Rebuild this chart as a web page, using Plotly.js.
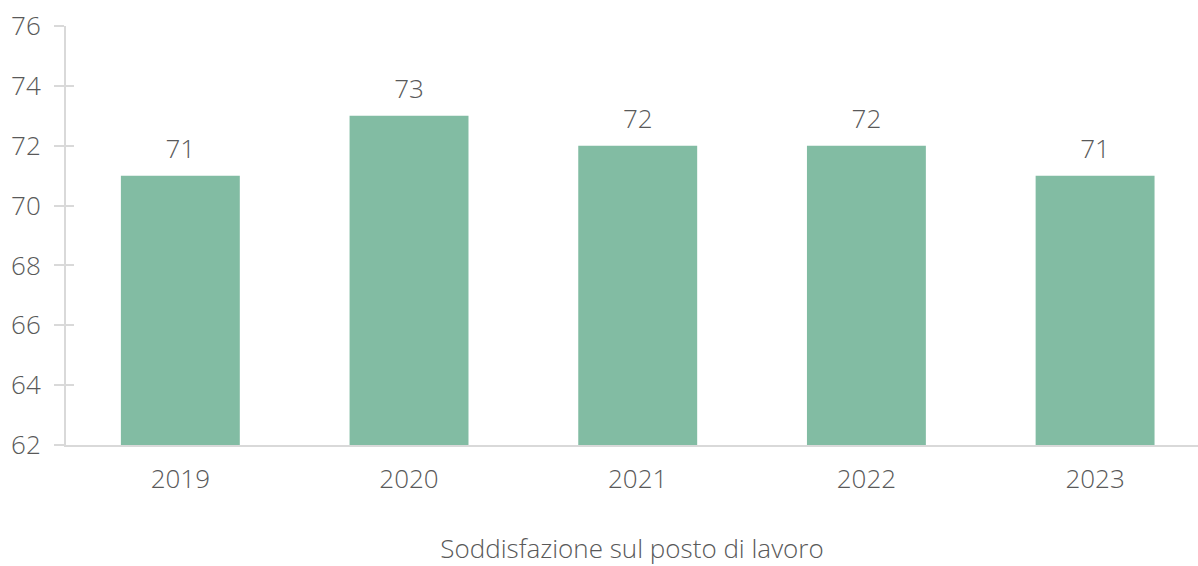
<!DOCTYPE html>
<html><head><meta charset="utf-8">
<script src="https://cdn.plot.ly/plotly-3.0.1.min.js"></script>
<style>html,body{margin:0;padding:0;background:#fff}#chart{width:1198px;height:566px}</style>
</head><body><div id="chart"></div>
<script>
const years = ['2019','2020','2021','2022','2023'];
const values = [71, 73, 72, 72, 71];
const yTicks = [62,64,66,68,70,72,74,76];
const xTitle = 'Soddisfazione sul posto di lavoro';

const font = "'Open Sans', 'Noto Sans', sans-serif";
const fs = 26;
const tf = {family: font, size: fs, color: '#595959', weight: 300};
const bars = {
  type: 'bar', x: years, y: values, width: 0.52,
  marker: {color: '#82BCA3'},
  hoverinfo: 'none'
};
const labels = {
  type: 'scatter', mode: 'markers+text', x: years, y: values,
  marker: {size: 16, opacity: 0},
  text: values.map(String), textposition: 'top center',
  textfont: tf, cliponaxis: false, hoverinfo: 'none'
};
const dummy = {type: 'scatter', x: [years[0]], y: [62], yaxis: 'y2', mode: 'markers', marker: {opacity: 0}, hoverinfo: 'none'};
const layout = {
  width: 1198, height: 566,
  margin: {l: 66, r: 0, t: 26, b: 121},
  paper_bgcolor: '#fff', plot_bgcolor: '#fff',
  showlegend: false,
  font: tf,
  xaxis: {
    type: 'category', range: [-0.5, 4.45], showgrid: false, zeroline: false,
    showline: true, linecolor: '#d9d9d9', linewidth: 2,
    ticks: '', tickfont: tf, ticklabelstandoff: 10,
    title: {text: xTitle, font: tf, standoff: 46}
  },
  yaxis: {
    range: [62, 76], tickvals: yTicks, showgrid: false, zeroline: false,
    showline: true, linecolor: '#d9d9d9', linewidth: 2,
    ticks: 'outside', ticklen: 10, tickcolor: '#d9d9d9', tickwidth: 2,
    tickfont: tf, ticklabelstandoff: 8
  },
  yaxis2: {
    overlaying: 'y', matches: 'y', range: [62, 76], tickvals: yTicks,
    showgrid: false, zeroline: false, showline: false, showticklabels: false,
    ticks: 'inside', ticklen: 8, tickcolor: '#d9d9d9', tickwidth: 2
  }
};
Plotly.newPlot('chart', [bars, labels, dummy], layout, {staticPlot: true});
</script></body></html>
